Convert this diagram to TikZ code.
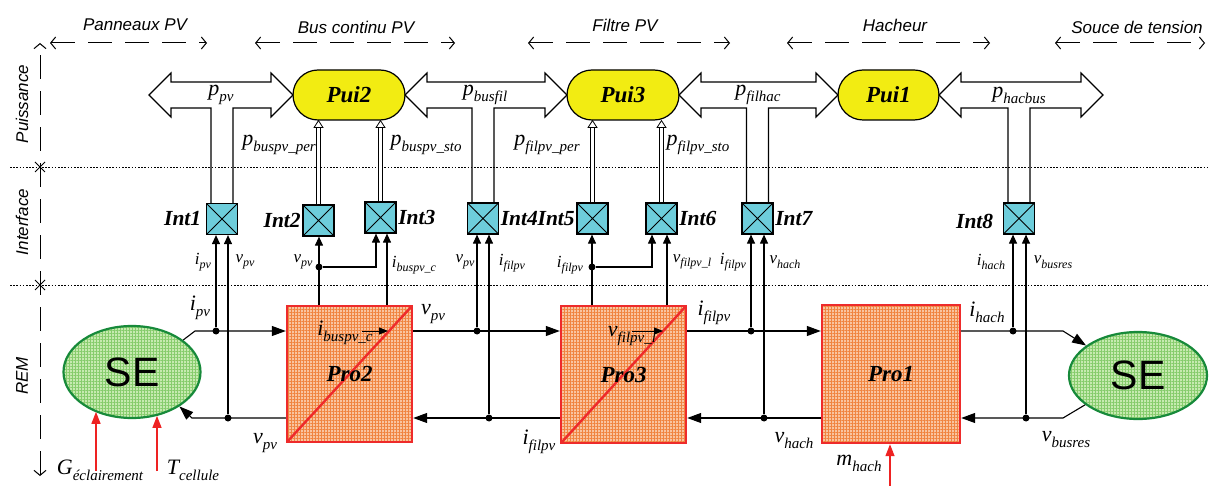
\documentclass[tikz,border=0pt]{standalone}
\usepackage{fontspec}
\setmainfont{Liberation Serif}
\setsansfont{Liberation Sans}
\usetikzlibrary{arrows.meta,shapes.geometric,patterns.meta,calc}
\definecolor{proF}{HTML}{F9C4A0}
\definecolor{proG}{HTML}{F08440}
\definecolor{proR}{HTML}{EE2B2B}
\definecolor{seF}{HTML}{C6EAB0}
\definecolor{seG}{HTML}{86CC6C}
\definecolor{seB}{HTML}{178A3A}
\definecolor{intC}{HTML}{6DCDDB}
\definecolor{puiC}{HTML}{F2EC12}
\definecolor{redA}{HTML}{EE2222}
\newcommand{\VarB}[2]{{\fontsize{22}{22}\selectfont\itshape #1}\raisebox{-6pt}{\fontsize{15}{15}\selectfont\itshape #2}}
\newcommand{\VarS}[2]{{\fontsize{17}{17}\selectfont\itshape #1}\raisebox{-4.5pt}{\fontsize{12}{12}\selectfont\itshape #2}}
\newcommand{\PwArrow}[4]{%
  \coordinate (#4a) at ([xshift=-11pt]#3.north);
  \coordinate (#4b) at ([xshift=11pt]#3.north);
  \draw[pwr] (#4a) -- (#4a |- pwb) -- (#1+22,108) -- (#1+22,117) -- (#1,95) -- (#1+22,73) -- (#1+22,82) -- (#2-22,82) -- (#2-22,73) -- (#2,95) -- (#2-22,117) -- (#2-22,108) -- (#4b |- pwb) -- (#4b);
}
\newcommand{\PFlow}[2]{%
  \coordinate (#1top) at (#1.north |- #2.south);
  \draw[dbl] (#1.north) -- ([yshift=-7pt]#1top);
  \draw[line width=0.8pt, fill=white] ([xshift=-4.5pt,yshift=-7pt]#1top) -- (#1top) -- ([xshift=4.5pt,yshift=-7pt]#1top) -- cycle;
}
\begin{document}
\begin{tikzpicture}[x=1pt,y=-1pt,
  sep/.style={line width=0.9pt, dash pattern=on 1.6pt off 1.6pt},
  axisln/.style={line width=1pt, dash pattern=on 24pt off 12pt, {Straight Barb[length=5pt,width=12pt]}-{Straight Barb[length=5pt,width=12pt]}},
  secarr/.style={line width=1pt, dash pattern=on 24pt off 13pt, {Straight Barb[length=5pt,width=12pt]}-{Straight Barb[length=5pt,width=12pt]}},
  sec/.style={font=\sffamily\itshape\fontsize{17}{17}\selectfont, inner sep=0pt},
  pwr/.style={line width=1.2pt, line join=miter},
  pui/.style={draw, line width=1.2pt, fill=puiC, rounded corners=25pt, minimum height=50pt, inner sep=0pt, font=\fontsize{23}{23}\selectfont\bfseries\itshape},
  intbox/.style={draw, line width=1.2pt, fill=intC, minimum size=31pt, inner sep=0pt,
    path picture={\draw[line width=1pt] (path picture bounding box.south west) -- (path picture bounding box.north east) (path picture bounding box.north west) -- (path picture bounding box.south east);}},
  intlbl/.style={font=\fontsize{21.5}{21.5}\selectfont\bfseries\itshape, inner sep=1.5pt},
  pro/.style={draw=proR, line width=2.4pt, inner sep=0pt,
    preaction={fill=proF},
    preaction={pattern={Lines[angle=0,distance=3pt,line width=0.5pt]}, pattern color=proG},
    preaction={pattern={Lines[angle=90,distance=3pt,line width=0.5pt]}, pattern color=proG},
    font=\fontsize{23}{23}\selectfont\bfseries\itshape},
  prodiag/.style={path picture={\draw[proR, line width=2.4pt] (path picture bounding box.south west) -- (path picture bounding box.north east);}},
  se/.style={ellipse, draw=seB, line width=2.2pt, inner sep=0pt,
    preaction={fill=seF},
    preaction={pattern={Lines[angle=0,distance=3pt,line width=0.45pt]}, pattern color=seG},
    preaction={pattern={Lines[angle=90,distance=3pt,line width=0.45pt]}, pattern color=seG},
    font=\sffamily\fontsize{41}{41}\selectfont},
  dot/.style={circle, fill, inner sep=0pt, minimum size=7pt},
  flow/.style={line width=1.1pt, -{Triangle[length=14pt,width=10pt]}},
  sig/.style={line width=1.1pt, -{Triangle[length=9pt,width=8pt]}},
  smallarr/.style={line width=1pt, -{Triangle[length=9pt,width=7pt]}},
  redarr/.style={draw=redA, line width=1.3pt, -{Triangle[length=12pt,width=9pt]}},
  dbl/.style={double=white, double distance=2.6pt, line width=0.8pt},
  lbl/.style={inner sep=0pt}
]
\useasboundingbox (0,0) rectangle (1209,486);
\fill[white] (0,0) rectangle (1209,486);

% separators
\draw[sep] (10,167) -- (1209,167);
\draw[sep] (10,285) -- (1209,285);

% left axis
\draw[axisln] (40,476) -- (40,43);
\draw[line width=1pt] (35,162) -- (45,172) (35,172) -- (45,162);
\draw[line width=1pt] (35,280) -- (45,290) (35,290) -- (45,280);
\node[sec, rotate=90] (lPuis) at (22,104) {Puissance};
\node[sec, rotate=90] (lInt) at (22,222) {Interface};
\node[sec, rotate=90] (lREM) at (22,376) {REM};

% sections
\node[sec] (sPan) at (135,25) {Panneaux PV};
\node[sec] (sBus) at (356,27) {Bus continu PV};
\node[sec] (sFil) at (625,25) {Filtre PV};
\node[sec] (sHac) at (895,25) {Hacheur};
\node[sec] (sSou) at (1137,27) {Souce de tension};
\draw[secarr] (50,43) -- (207,43);
\draw[secarr] (255,43) -- (455,43);
\draw[secarr] (528,43) -- (730,43);
\draw[secarr] (787,43) -- (990,43);
\draw[secarr] (1055,43) -- (1205,43);

% power nodes
\node[pui, minimum width=112pt] (pui2) at (349,95) {Pui2};
\node[pui, minimum width=112pt] (pui3) at (623,95) {Pui3};
\node[pui, minimum width=101pt] (pui1) at (888.5,95) {Pui1};

% interface nodes
\node[intbox] (int1) at (222,219) {};
\node[intbox] (int2) at (318.5,220.5) {};
\node[intbox] (int3) at (380.5,217.5) {};
\node[intbox] (int4) at (483,218.5) {};
\node[intbox] (int5) at (592.5,218.5) {};
\node[intbox] (int6) at (661.5,218.5) {};
\node[intbox] (int7) at (757.5,218.5) {};
\node[intbox] (int8) at (1019,218.5) {};
\node[intlbl, anchor=east, xshift=-3pt] (int1l) at (int1.west) {Int1};
\node[intlbl, anchor=east] (int2l) at (int2.west) {Int2};
\node[intlbl, anchor=west] (int3l) at (int3.east) {Int3};
\node[intlbl, anchor=west] (int4l) at (int4.east) {Int4};
\node[intlbl, anchor=east] (int5l) at (int5.west) {Int5};
\node[intlbl, anchor=west] (int6l) at (int6.east) {Int6};
\node[intlbl, anchor=west] (int7l) at (int7.east) {Int7};
\node[intlbl, anchor=east, xshift=-8pt, yshift=-3pt] (int8l) at (int8.west) {Int8};

% power arrows
\coordinate (pwb) at (0,108);
\PwArrow{149}{293}{int1}{pa}
\PwArrow{405}{567}{int4}{pb}
\PwArrow{679}{838}{int7}{pc}
\PwArrow{939}{1103}{int8}{pd}
\node[lbl] (lppv) at (221,95) {\VarB{p}{pv}};
\node[lbl] (lpbusfil) at (485,95) {\VarB{p}{busfil}};
\node[lbl] (lpfilhac) at (758,95) {\VarB{p}{filhac}};
\node[lbl] (lphacbus) at (1019,95) {\VarB{p}{hacbus}};

% power flows to Pui
\PFlow{int2}{pui2}
\PFlow{int3}{pui2}
\PFlow{int5}{pui3}
\PFlow{int6}{pui3}
\node[lbl] (lpbper) at (279,145) {\VarB{p}{buspv\_per}};
\node[lbl] (lpbsto) at (426,145) {\VarB{p}{buspv\_sto}};
\node[lbl] (lpfper) at (547,145) {\VarB{p}{filpv\_per}};
\node[lbl] (lpfsto) at (698,145) {\VarB{p}{filpv\_sto}};

% REM elements
\node[se, minimum width=137pt, minimum height=92pt] (seL) at (132,372) {SE};
\node[se, minimum width=138pt, minimum height=87pt] (seR) at (1138,375.5) {SE};
\node[pro, prodiag, minimum width=125pt, minimum height=136pt] (pro2) at (349.5,374) {Pro2};
\node[pro, prodiag, minimum width=125pt, minimum height=137pt] (pro3) at (623.5,374.5) {Pro3};
\node[pro, minimum width=138pt, minimum height=138pt] (pro1) at (891,374) {Pro1};

% main flows
\coordinate (aT) at (0,331);
\coordinate (aB) at (0,418);
\coordinate (bL1) at (195,331);
\coordinate (bL2) at (192,418);
\coordinate (bR1) at (1063,331);
\coordinate (bR2) at (1063,418);
\draw[flow] (seL.32) -- (bL1) -- (pro2.west |- aT);
\draw[flow] (pro2.west |- aB) -- (bL2) -- (seL.-36);
\draw[flow] (pro2.east |- aT) -- (pro3.west |- aT);
\draw[flow] (pro3.west |- aB) -- (pro2.east |- aB);
\draw[flow] (pro3.east |- aT) -- (pro1.west |- aT);
\draw[flow] (pro1.west |- aB) -- (pro3.east |- aB);
\draw[flow] (pro1.east |- aT) -- (bR1) -- (seR.150);
\draw[flow] (seR.-151) -- (bR2) -- (pro1.east |- aB);

% junctions
\node[dot] (d1) at (216,331) {};
\node[dot] (d2) at (228,418) {};
\node[dot] (d3) at (319,267) {};
\node[dot] (d4) at (477,331) {};
\node[dot] (d5) at (489,418) {};
\node[dot] (d6) at (592,267) {};
\node[dot] (d7) at (751,331) {};
\node[dot] (d8) at (764,418) {};
\node[dot] (d9) at (1013,331) {};
\node[dot] (d10) at (1026,418) {};
\coordinate (c3) at (376,267);
\coordinate (c3b) at (387,300);
\coordinate (c6) at (652,267);
\coordinate (c6b) at (667,300);

% measurements to interfaces
\draw[sig] (d1) -- (int1.south -| d1);
\draw[sig] (d2) -- (int1.south -| d2);
\draw[sig] (pro2.north -| d3) -- (int2.south -| d3);
\draw[sig] (d3) -- (c3) -- (int3.south -| c3);
\draw[sig] (pro2.north -| c3b) -- (int3.south -| c3b);
\draw[sig] (d4) -- (int4.south -| d4);
\draw[sig] (d5) -- (int4.south -| d5);
\draw[sig] (pro3.north -| d6) -- (int5.south -| d6);
\draw[sig] (d6) -- (c6) -- (int6.south -| c6);
\draw[sig] (pro3.north -| c6b) -- (int6.south -| c6b);
\draw[sig] (d7) -- (int7.south -| d7);
\draw[sig] (d8) -- (int7.south -| d8);
\draw[sig] (d9) -- (int8.south -| d9);
\draw[sig] (d10) -- (int8.south -| d10);

% inner arrows
\coordinate (ia1) at (362,331);
\coordinate (ia2) at (388,331);
\coordinate (ib1) at (632,331);
\coordinate (ib2) at (663,331);
\draw[smallarr] (ia1) -- (ia2);
\draw[smallarr] (ib1) -- (ib2);

% red inputs
\coordinate (gS) at (96,471);
\coordinate (tS) at (157,471);
\coordinate (mS) at (890,486);
\draw[redarr] (gS) -- (gS |- seL.227);
\draw[redarr] (tS) -- (tS |- seL.-60);
\draw[redarr] (mS) -- (pro1.south -| mS);

% interface labels
\node[lbl] (s1) at (203,262) {\VarS{i}{pv}};
\node[lbl] (s2) at (245,262) {\VarS{v}{pv}};
\node[lbl] (s3) at (303,262) {\VarS{v}{pv}};
\node[lbl] (s4) at (414,265) {\VarS{i}{buspv\_c}};
\node[lbl] (s5) at (465,262) {\VarS{v}{pv}};
\node[lbl] (s6) at (512,263) {\VarS{i}{filpv}};
\node[lbl] (s7) at (570,265) {\VarS{i}{filpv}};
\node[lbl] (s8) at (692,262) {\VarS{v}{filpv\_l}};
\node[lbl] (s9) at (733,262) {\VarS{i}{filpv}};
\node[lbl] (s10) at (785,262) {\VarS{v}{hach}};
\node[lbl] (s11) at (991,262) {\VarS{i}{hach}};
\node[lbl] (s12) at (1053,262) {\VarS{v}{busres}};

% REM labels
\node[lbl] (r1) at (200,308) {\VarB{i}{pv}};
\node[lbl] (r2) at (265,443) {\VarB{v}{pv}};
\node[lbl] (r3) at (345,333) {\VarB{i}{buspv\_c}};
\node[lbl] (r4) at (433,314) {\VarB{v}{pv}};
\node[lbl] (r5) at (539,442) {\VarB{i}{filpv}};
\node[lbl] (r6) at (632,336) {\VarB{v}{filpv\_l}};
\node[lbl] (r7) at (714,313) {\VarB{i}{filpv}};
\node[lbl] (r8) at (794,441) {\VarB{v}{hach}};
\node[lbl] (r9) at (987,312) {\VarB{i}{hach}};
\node[lbl] (r10) at (1066,440) {\VarB{v}{busres}};
\node[lbl] (r11) at (859,463) {\VarB{m}{hach}};
\node[lbl] (r12) at (100,470) {\VarB{G}{éclairement}};
\node[lbl] (r13) at (193,470) {\VarB{T}{cellule}};
\end{tikzpicture}
\end{document}
